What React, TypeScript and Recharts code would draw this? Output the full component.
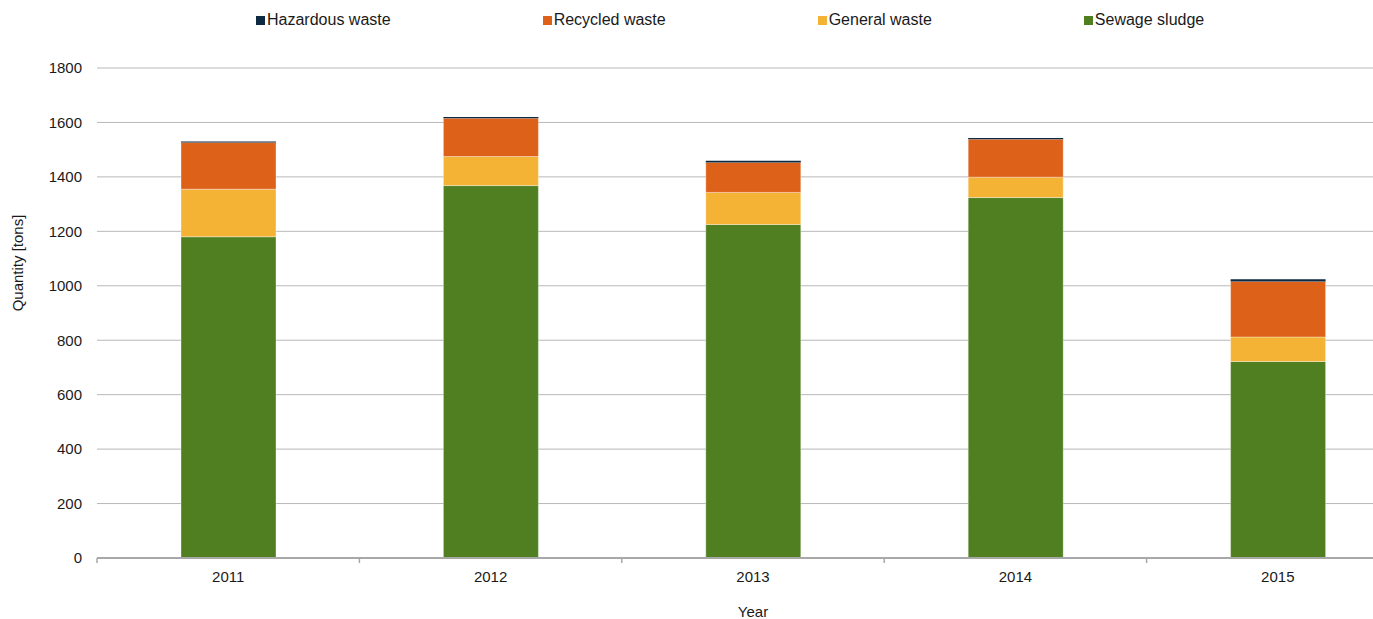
import { BarChart, Bar, XAxis, YAxis, CartesianGrid, Legend } from "recharts";

// Waste quantities per year, in tons
const years = ["2011", "2012", "2013", "2014", "2015"];
const sewageSludge = [1180, 1368, 1225, 1324, 722];
const generalWaste = [175, 107, 118, 75, 90];
const recycledWaste = [171, 140, 110, 139, 204];
const hazardousWaste = [4, 5, 6, 5, 8];
const yTicks = [0, 200, 400, 600, 800, 1000, 1200, 1400, 1600, 1800];
const legendOrder = ["Hazardous waste", "Recycled waste", "General waste", "Sewage sludge"];

const data = years.map((year, i) => ({
  year,
  sludge: sewageSludge[i],
  general: generalWaste[i],
  recycled: recycledWaste[i],
  hazardous: hazardousWaste[i],
}));

const COLORS = {
  hazardous: "#0e2a43",
  recycled: "#dd6118",
  general: "#f5b335",
  sludge: "#4f7f20",
};

const TEXT = "#1a1a1a";
const AXIS = "#a8a8a8";

// category label at the band centre, tick mark at the band's left edge
const YearTick = (props: any) => {
  const { x, y, payload } = props;
  const edge = x - (payload.offset ?? 0);
  return (
    <g>
      <line x1={edge} y1={y} x2={edge} y2={y + 5} stroke={AXIS} strokeWidth={1.5} />
      <text x={x} y={y + 24} textAnchor="middle" fontSize={15} fill={TEXT}>
        {payload.value}
      </text>
    </g>
  );
};

// legend reads top to bottom of the stack
const LegendRow = (props: any) => {
  const items = [...(props.payload || [])].sort(
    (a: any, b: any) => legendOrder.indexOf(a.value) - legendOrder.indexOf(b.value)
  );
  return (
    <div
      style={{
        display: "flex",
        alignItems: "center",
        height: 40,
        paddingLeft: 256,
        fontSize: 16,
        color: TEXT,
      }}
    >
      {items.map((item: any) => (
        <div
          key={item.value}
          style={{ display: "flex", alignItems: "center", marginRight: 152 }}
        >
          <span
            style={{
              width: 9,
              height: 9,
              background: item.color,
              marginRight: 2,
              display: "inline-block",
            }}
          />
          <span>{item.value}</span>
        </div>
      ))}
    </div>
  );
};

export default function App() {
  return (
    <div
      style={{
        position: "absolute",
        left: 0,
        top: 0,
        width: 1373,
        height: 619,
        overflow: "hidden",
        background: "#fff",
        fontFamily: '"Liberation Sans", Arial, Helvetica, sans-serif',
      }}
    >
      <BarChart
        width={1420}
        height={619}
        data={data}
        margin={{ top: 0, right: 11, left: 0, bottom: 0 }}
        barSize={95}
      >
        <Legend
          verticalAlign="top"
          align="left"
          height={68}
          content={<LegendRow />}
        />
        <CartesianGrid vertical={false} stroke="#b8b8b8" />
        <XAxis
          dataKey="year"
          height={61}
          tickLine={false}
          tickSize={0}
          tickMargin={0}
          axisLine={{ stroke: AXIS, strokeWidth: 2 }}
          tick={<YearTick />}
          label={{
            value: "Year",
            position: "insideBottom",
            offset: 2,
            fontSize: 15,
            fill: TEXT,
          }}
        />
        <YAxis
          width={97}
          domain={[0, 1800]}
          ticks={yTicks}
          axisLine={false}
          tickLine={false}
          tickSize={0}
          tickMargin={15}
          tick={{ fontSize: 15, fill: TEXT }}
          label={{
            content: () => (
              <text
                transform="translate(17,263) rotate(-90)"
                textAnchor="middle"
                dominantBaseline="central"
                fontSize={15}
                fill={TEXT}
              >
                Quantity [tons]
              </text>
            ),
          }}
        />
        <Bar
          dataKey="sludge"
          name="Sewage sludge"
          stackId="w"
          fill={COLORS.sludge}
          stroke="rgba(255,255,255,0.35)"
          isAnimationActive={false}
        />
        <Bar
          dataKey="general"
          name="General waste"
          stackId="w"
          fill={COLORS.general}
          stroke="rgba(255,255,255,0.35)"
          isAnimationActive={false}
        />
        <Bar
          dataKey="recycled"
          name="Recycled waste"
          stackId="w"
          fill={COLORS.recycled}
          stroke="rgba(255,255,255,0.35)"
          isAnimationActive={false}
        />
        <Bar
          dataKey="hazardous"
          name="Hazardous waste"
          stackId="w"
          fill={COLORS.hazardous}
          isAnimationActive={false}
        />
      </BarChart>
    </div>
  );
}
